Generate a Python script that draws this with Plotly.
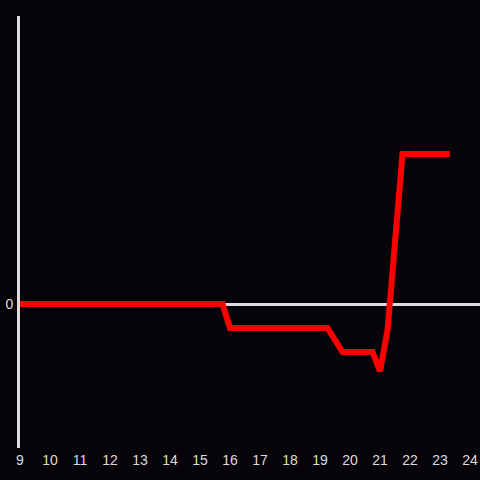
import plotly.graph_objects as go

BG = "#060409"
AXIS = "#dcdcdc"
RED = "#ff0000"

# hour of day vs. value (breakpoints of the line)
hours = [9, 15.75, 16.0, 19.25, 19.75, 20.75, 21.0, 21.25, 21.75, 23.33]
values = [0, 0, -1.0, -1.0, -2.0, -2.0, -2.8, -1.1, 6.25, 6.25]

x_ticks = list(range(9, 25))

fig = go.Figure(
    go.Scatter(
        x=hours,
        y=values,
        mode="lines",
        line=dict(color=RED, width=6),
        showlegend=False,
        hoverinfo="skip",
        cliponaxis=False,
    )
)

tick_font = dict(family="Liberation Sans, Arial, sans-serif", size=14, color=AXIS)

fig.update_layout(
    width=480,
    height=480,
    paper_bgcolor=BG,
    plot_bgcolor=BG,
    margin=dict(l=20, r=0, t=16, b=32),
    font=tick_font,
    xaxis=dict(
        range=[9, 24.333],
        tickvals=x_ticks,
        ticktext=[str(t) for t in x_ticks],
        tickfont=tick_font,
        showgrid=False,
        zeroline=False,
        showline=False,
        ticks="",
        ticklabelstandoff=2,
    ),
    yaxis=dict(
        range=[-6, 12],
        tickvals=[0],
        ticktext=["0"],
        tickfont=tick_font,
        showgrid=False,
        zeroline=True,
        zerolinecolor=AXIS,
        zerolinewidth=3,
        showline=True,
        linecolor=AXIS,
        linewidth=3,
        ticks="",
        ticklabelstandoff=1,
    ),
)

fig.write_html(
    "out.html",
    config={"displayModeBar": False},
    post_script="document.body.style.margin='0';document.body.style.overflow='hidden';",
)
